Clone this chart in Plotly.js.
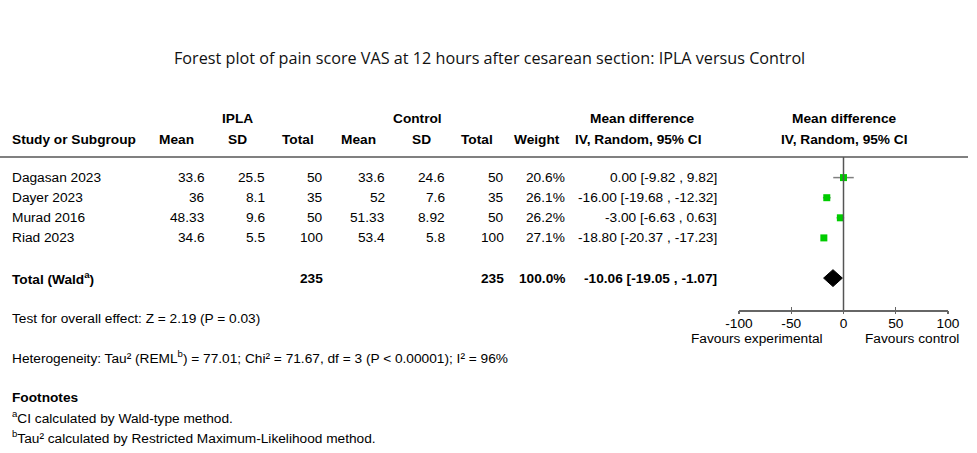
<!DOCTYPE html>
<html>
<head>
<meta charset="utf-8">
<script src="https://cdn.plot.ly/plotly-3.0.1.min.js"></script>
<style>html,body{margin:0;padding:0;background:#fff;}#chart{width:977px;height:453px;}</style>
</head>
<body>
<div id="chart"></div>
<script>
// ---- data ----
const studies    = ["Dagasan 2023", "Dayer 2023", "Murad 2016", "Riad 2023"];
const iplaMean   = ["33.6", "36", "48.33", "34.6"];
const iplaSD     = ["25.5", "8.1", "9.6", "5.5"];
const iplaTotal  = [50, 35, 50, 100];
const ctrlMean   = ["33.6", "52", "51.33", "53.4"];
const ctrlSD     = ["24.6", "7.6", "8.92", "5.8"];
const ctrlTotal  = [50, 35, 50, 100];
const weights    = ["20.6%", "26.1%", "26.2%", "27.1%"];
const md         = [0.00, -16.00, -3.00, -18.80];
const ciLow      = [-9.82, -19.68, -6.63, -20.37];
const ciHigh     = [9.82, -12.32, 0.63, -17.23];
const totalIpla  = 235;
const totalCtrl  = 235;
const totalWeight = "100.0%";
const totalMD    = -10.06;
const totalLow   = -19.05;
const totalHigh  = -1.07;
const xTicks     = [-100, -50, 0, 50, 100];

// ---- layout helpers (pixel -> paper) ----
const W = 977, H = 453;
const px = x => x / W;
const py = y => 1 - y / H;
const rowTop = 177.6, rowStep = 20.1;
const rowY = i => rowTop + rowStep * i;
const totalRow = 5;
const FONT = "Liberation Sans, Arial, sans-serif";
const FS = 13.7;
const fmt2 = v => v.toFixed(2);
const ciText = (m, l, h) => fmt2(m) + " [" + fmt2(l) + " , " + fmt2(h) + "]";

const ann = [];
function txt(text, x, y, align, opts) {
  opts = opts || {};
  const xa = align === "right" ? "right" : (align === "center" ? "center" : "left");
  ann.push({
    text: opts.bold ? "<b>" + text + "</b>" : text,
    x: px(x), y: py(y), xref: "paper", yref: "paper",
    xanchor: xa, yanchor: "middle", showarrow: false,
    font: {family: opts.family || FONT, size: opts.size || FS, color: opts.color || "#000"}
  });
}

// title
txt("Forest plot of pain score VAS at 12 hours after cesarean section: IPLA versus Control", 490, 58, "center", {family: "Open Sans, sans-serif", size: 16.2, color: "#111"});

// headers
const h1 = 118, h2 = 139;
txt("IPLA", 237, h1, "center", {bold: true});
txt("Control", 417, h1, "center", {bold: true});
txt("Mean difference", 642, h1, "center", {bold: true});
txt("Mean difference", 844, h1, "center", {bold: true});
txt("Study or Subgroup", 10, h2, "left", {bold: true});
txt("Mean", 176, h2, "center", {bold: true});
txt("SD", 237, h2, "center", {bold: true});
txt("Total", 298, h2, "center", {bold: true});
txt("Mean", 358, h2, "center", {bold: true});
txt("SD", 421, h2, "center", {bold: true});
txt("Total", 477, h2, "center", {bold: true});
txt("Weight", 537, h2, "center", {bold: true});
txt("IV, Random, 95% CI", 638, h2, "center", {bold: true});
txt("IV, Random, 95% CI", 844, h2, "center", {bold: true});

// study rows
studies.forEach((s, i) => {
  const y = rowY(i);
  txt(s, 10, y, "left");
  txt(iplaMean[i], 207, y, "right");
  txt(iplaSD[i], 267, y, "right");
  txt(String(iplaTotal[i]), 325, y, "right");
  txt(ctrlMean[i], 387, y, "right");
  txt(ctrlSD[i], 447, y, "right");
  txt(String(ctrlTotal[i]), 506, y, "right");
  txt(weights[i], 567, y, "right");
  txt(ciText(md[i], ciLow[i], ciHigh[i]), 719, y, "right");
});

// total row
const ty = rowY(totalRow);
txt("Total (Wald<sup>a</sup>)", 10, ty, "left", {bold: true});
txt(String(totalIpla), 325, ty, "right", {bold: true});
txt(String(totalCtrl), 506, ty, "right", {bold: true});
txt(totalWeight, 567, ty, "right", {bold: true});
txt(ciText(totalMD, totalLow, totalHigh), 719, ty, "right", {bold: true});

// notes
txt("Test for overall effect: Z = 2.19 (P = 0.03)", 10, 318, "left");
txt("Heterogeneity: Tau² (REML<sup>b</sup>) = 77.01; Chi² = 71.67, df = 3 (P &lt; 0.00001); I² = 96%", 10, 357, "left");
txt("Footnotes", 10, 397, "left", {bold: true});
txt("<sup>a</sup>CI calculated by Wald-type method.", 10, 417, "left");
txt("<sup>b</sup>Tau² calculated by Restricted Maximum-Likelihood method.", 10, 437, "left");

// favours labels
txt("Favours experimental", 757, 338, "center");
txt("Favours control", 912, 338, "center");

// ---- traces ----
const rows = studies.map((_, i) => i);
const studyTrace = {
  type: "scatter", mode: "markers",
  x: md, y: rows,
  marker: {symbol: "square", size: 7, color: "#00cc00", line: {width: 0}},
  error_x: {
    type: "data", symmetric: false,
    array: md.map((m, i) => ciHigh[i] - m),
    arrayminus: md.map((m, i) => m - ciLow[i]),
    color: "#808080", thickness: 1.5, width: 0
  },
  hoverinfo: "skip", showlegend: false
};
const dh = 0.42;
const diamond = {
  type: "scatter", mode: "lines", fill: "toself",
  x: [totalLow, totalMD, totalHigh, totalMD, totalLow],
  y: [totalRow, totalRow - dh, totalRow, totalRow + dh, totalRow],
  fillcolor: "#000", line: {color: "#000", width: 1},
  hoverinfo: "skip", showlegend: false
};

const axisY = 310;
const layout = {
  width: W, height: H,
  margin: {l: 0, r: 0, t: 0, b: 0},
  paper_bgcolor: "#fff", plot_bgcolor: "rgba(0,0,0,0)",
  showlegend: false,
  xaxis: {
    domain: [px(739), px(948)], range: [-100, 100],
    anchor: "free", position: py(axisY),
    showgrid: false, zeroline: false,
    showline: true, linecolor: "#666", linewidth: 1.5,
    ticks: "inside", ticklen: 3, tickwidth: 1.2, tickcolor: "#666",
    tickvals: xTicks, ticktext: xTicks.map(String),
    tickfont: {family: FONT, size: FS, color: "#000"}
  },
  xaxis2: {
    domain: [px(739), px(948)], range: [-100, 100],
    overlaying: "x", anchor: "free", position: py(axisY),
    showgrid: false, zeroline: false, showline: false,
    ticks: "outside", ticklen: 3, tickwidth: 1.2, tickcolor: "#666",
    tickvals: xTicks, showticklabels: false
  },
  yaxis: {
    domain: [0, 1],
    range: [(H - rowTop) / rowStep, -rowTop / rowStep],
    visible: false, showgrid: false, zeroline: false
  },
  shapes: [
    {type: "line", xref: "paper", yref: "paper", x0: 0, x1: px(968), y0: py(157), y1: py(157),
     line: {color: "#808080", width: 2}},
    {type: "line", xref: "x", yref: "paper", x0: 0, x1: 0, y0: py(157), y1: py(axisY),
     line: {color: "#555", width: 1.5}}
  ],
  annotations: ann
};

const dummy2 = {type: "scatter", x: [0], y: [0], xaxis: "x2", yaxis: "y", mode: "markers", marker: {opacity: 0}, showlegend: false, hoverinfo: "skip"};

Plotly.newPlot("chart", [studyTrace, diamond, dummy2], layout, {staticPlot: true, displayModeBar: false});
</script>
</body>
</html>
